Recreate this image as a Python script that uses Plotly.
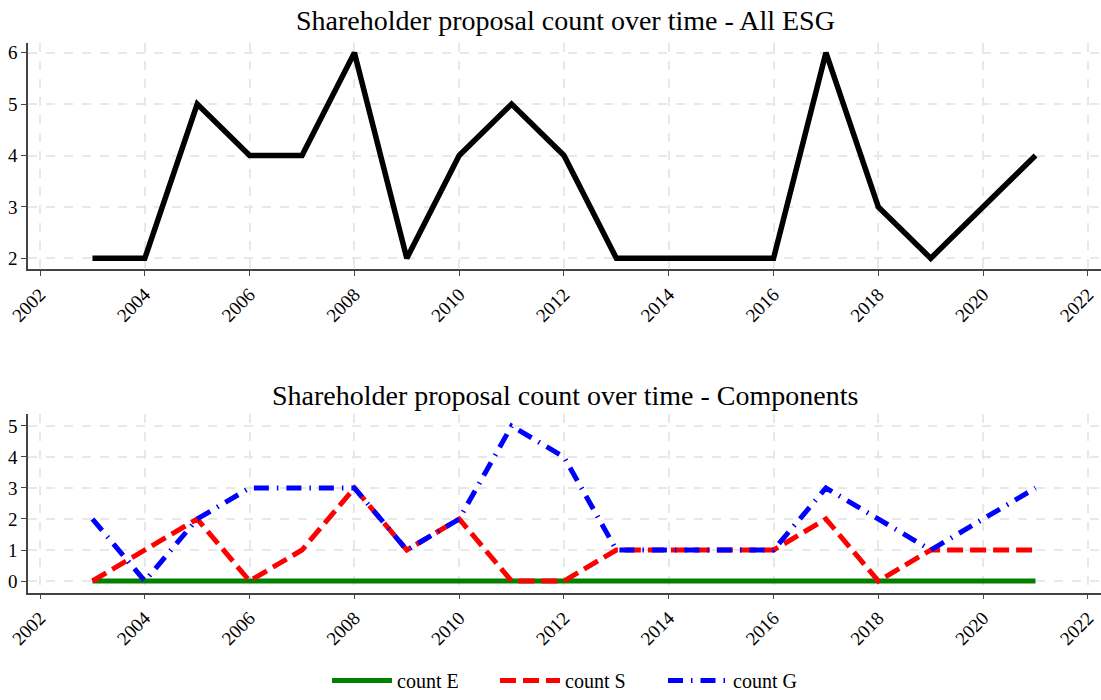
import plotly.graph_objects as go
from plotly.subplots import make_subplots

years = list(range(2003, 2022))
all_esg = [2, 2, 5, 4, 4, 6, 2, 4, 5, 4, 2, 2, 2, 2, 6, 3, 2, 3, 4]
count_e = [0] * 19
count_s = [0, 1, 2, 0, 1, 3, 1, 2, 0, 0, 1, 1, 1, 1, 2, 0, 1, 1, 1]
count_g = [2, 0, 2, 3, 3, 3, 1, 2, 5, 4, 1, 1, 1, 1, 3, 2, 1, 2, 3]
x_ticks = list(range(2002, 2023, 2))
titles = ["Shareholder proposal count over time - All ESG",
          "Shareholder proposal count over time - Components"]

FONT = "Liberation Serif, Times New Roman, serif"

fig = make_subplots(rows=2, cols=1)

fig.add_trace(go.Scatter(x=years, y=all_esg, mode="lines", line=dict(color="black", width=5.5),
                         showlegend=False), row=1, col=1)
fig.add_trace(go.Scatter(x=years, y=count_e, mode="lines", name="count E",
                         line=dict(color="#008000", width=5)), row=2, col=1)
fig.add_trace(go.Scatter(x=years, y=count_s, mode="lines", name="count S",
                         line=dict(color="#ff0000", width=5, dash="16px,7px")), row=2, col=1)
fig.add_trace(go.Scatter(x=years, y=count_g, mode="lines", name="count G",
                         line=dict(color="#0000ff", width=5, dash="15px,8px,1.5px,8px")), row=2, col=1)

axis_common = dict(showline=True, linecolor="#444", linewidth=1.5, ticks="outside", ticklen=5,
                   tickcolor="#444", showgrid=True, gridcolor="#e8e8e8", griddash="dash",
                   gridwidth=1.5, zeroline=False, automargin=False,
                   tickfont=dict(family=FONT, size=19, color="black"))

fig.update_xaxes(**axis_common, range=[2001.77, 2022.25], tickvals=x_ticks, tickangle=-45)
fig.update_yaxes(**axis_common)
fig.update_yaxes(range=[1.786, 6.195], tickvals=[2, 3, 4, 5, 6], domain=[0.6153, 0.9390], row=1, col=1)
fig.update_yaxes(range=[-0.377, 5.387], tickvals=[0, 1, 2, 3, 4, 5], domain=[0.1533, 0.4086], row=2, col=1)
fig.update_xaxes(domain=[0, 1])

fig.update_layout(
    width=1101, height=700,
    margin=dict(l=28, r=0, t=0, b=0),
    plot_bgcolor="white", paper_bgcolor="white",
    font=dict(family=FONT, color="black"),
    legend=dict(orientation="h", x=(327 - 28) / 1073, xanchor="left", y=0, yanchor="bottom",
                font=dict(family=FONT, size=20, color="black"), itemwidth=60,
                entrywidth=93, entrywidthmode="pixels", bgcolor="rgba(0,0,0,0)"),
    annotations=[
        dict(text=titles[0], x=(565 - 28) / 1073, y=1 - 20 / 700, xref="paper", yref="paper",
             xanchor="center", yanchor="middle", showarrow=False,
             font=dict(family=FONT, size=28, color="black")),
        dict(text=titles[1], x=(565 - 28) / 1073, y=1 - 395 / 700, xref="paper", yref="paper",
             xanchor="center", yanchor="middle", showarrow=False,
             font=dict(family=FONT, size=28, color="black")),
    ],
)

fig.write_html("out.html", config={"displayModeBar": False},
               post_script="document.body.style.margin='0';document.body.style.padding='0';")
